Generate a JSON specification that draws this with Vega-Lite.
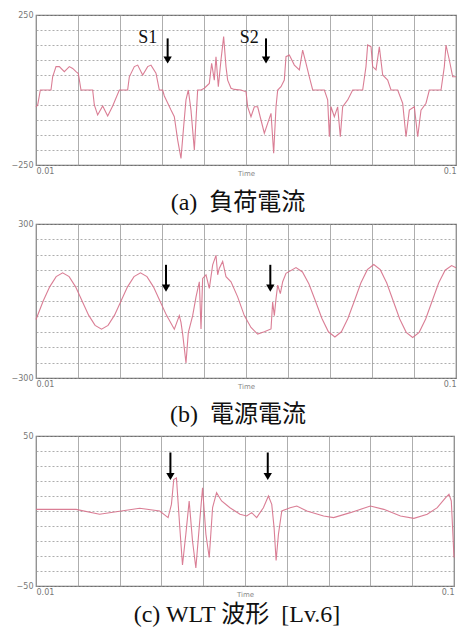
{
  "$schema": "https://vega.github.io/schema/vega-lite/v6.json",
  "background": "white",
  "padding": {"top": 10, "left": 5, "right": 5, "bottom": 3},
  "spacing": 3,
  "config": {
    "view": {"stroke": "#6f6f6f", "strokeWidth": 1.2},
    "axis": {"labelFont": "DejaVu Sans", "labelFontSize": 8, "labelColor": "#777", "ticks": false, "domain": false, "gridColor": "#999", "gridWidth": 0.8, "titleFont": "DejaVu Sans", "titleFontSize": 7, "titleColor": "#888", "titleFontWeight": "normal"},
    "axisX": {"gridDash": [], "labelFlush": true, "labelPadding": 2},
    "axisY": {"gridDash": [2, 2], "minExtent": 30, "maxExtent": 30, "labelPadding": 3},
    "title": {"font": "Liberation Serif, Noto Sans CJK JP", "fontSize": 24, "fontWeight": "normal", "color": "#111", "orient": "bottom", "dx": -8}
  },
  "datasets": {
    "load": [
      {"t":0.01000,"v":-56},{"t":0.01036,"v":-50},{"t":0.01093,"v":0},{"t":0.01321,"v":0},{"t":0.01357,"v":44},{"t":0.01429,"v":78},{"t":0.01500,"v":78},{"t":0.01607,"v":61},{"t":0.01714,"v":78},{"t":0.01786,"v":72},{"t":0.01857,"v":61},{"t":0.01907,"v":55},{"t":0.01964,"v":0},{"t":0.02214,"v":0},{"t":0.02250,"v":-50},{"t":0.02321,"v":-83},{"t":0.02429,"v":-53},{"t":0.02536,"v":-87},{"t":0.02643,"v":-53},{"t":0.02786,"v":0},{"t":0.02964,"v":0},{"t":0.03000,"v":44},{"t":0.03107,"v":78},{"t":0.03179,"v":83},{"t":0.03286,"v":50},{"t":0.03393,"v":78},{"t":0.03464,"v":83},{"t":0.03571,"v":56},{"t":0.03643,"v":0},{"t":0.03714,"v":0},{"t":0.03750,"v":-20},{"t":0.03893,"v":-67},{"t":0.03964,"v":-89},{"t":0.04036,"v":-167},{"t":0.04107,"v":-228},{"t":0.04164,"v":-122},{"t":0.04214,"v":-33},{"t":0.04264,"v":0},{"t":0.04321,"v":-67},{"t":0.04393,"v":-200},{"t":0.04464,"v":0},{"t":0.04536,"v":0},{"t":0.04607,"v":6},{"t":0.04714,"v":22},{"t":0.04764,"v":89},{"t":0.04821,"v":33},{"t":0.04857,"v":111},{"t":0.04907,"v":11},{"t":0.04964,"v":100},{"t":0.05021,"v":178},{"t":0.05071,"v":78},{"t":0.05107,"v":33},{"t":0.05179,"v":6},{"t":0.05250,"v":2},{"t":0.05393,"v":0},{"t":0.05500,"v":-6},{"t":0.05536,"v":-56},{"t":0.05607,"v":-89},{"t":0.05679,"v":-56},{"t":0.05750,"v":-56},{"t":0.05821,"v":-100},{"t":0.05893,"v":-144},{"t":0.05964,"v":-111},{"t":0.06036,"v":-78},{"t":0.06093,"v":-211},{"t":0.06143,"v":-56},{"t":0.06179,"v":0},{"t":0.06250,"v":11},{"t":0.06321,"v":33},{"t":0.06357,"v":111},{"t":0.06429,"v":117},{"t":0.06536,"v":83},{"t":0.06643,"v":67},{"t":0.06714,"v":133},{"t":0.06786,"v":89},{"t":0.06857,"v":44},{"t":0.06929,"v":0},{"t":0.07179,"v":0},{"t":0.07250,"v":-33},{"t":0.07286,"v":-156},{"t":0.07321,"v":-56},{"t":0.07393,"v":-89},{"t":0.07464,"v":-56},{"t":0.07521,"v":-156},{"t":0.07571,"v":-56},{"t":0.07679,"v":-33},{"t":0.07786,"v":0},{"t":0.08000,"v":0},{"t":0.08071,"v":78},{"t":0.08107,"v":150},{"t":0.08179,"v":144},{"t":0.08214,"v":78},{"t":0.08286,"v":67},{"t":0.08357,"v":144},{"t":0.08429,"v":50},{"t":0.08536,"v":33},{"t":0.08607,"v":0},{"t":0.08750,"v":0},{"t":0.08857,"v":-44},{"t":0.08929,"v":-156},{"t":0.09000,"v":-67},{"t":0.09107,"v":-56},{"t":0.09179,"v":-156},{"t":0.09250,"v":-67},{"t":0.09357,"v":-44},{"t":0.09429,"v":0},{"t":0.09679,"v":0},{"t":0.09750,"v":78},{"t":0.09786,"v":150},{"t":0.09857,"v":100},{"t":0.09929,"v":44},{"t":0.10000,"v":44}
    ],
    "source": [
      {"t":0.01000,"v":-72},{"t":0.01154,"v":0},{"t":0.01293,"v":55},{"t":0.01432,"v":95},{"t":0.01571,"v":110},{"t":0.01710,"v":95},{"t":0.01849,"v":55},{"t":0.01988,"v":0},{"t":0.02127,"v":-55},{"t":0.02266,"v":-95},{"t":0.02405,"v":-110},{"t":0.02544,"v":-95},{"t":0.02683,"v":-55},{"t":0.02822,"v":0},{"t":0.02961,"v":55},{"t":0.03100,"v":95},{"t":0.03239,"v":110},{"t":0.03378,"v":95},{"t":0.03517,"v":55},{"t":0.03656,"v":0},{"t":0.03795,"v":-55},{"t":0.03964,"v":-110},{"t":0.04071,"v":-57},{"t":0.04107,"v":-83},{"t":0.04143,"v":-129},{"t":0.04214,"v":-241},{"t":0.04264,"v":-123},{"t":0.04357,"v":-57},{"t":0.04429,"v":16},{"t":0.04500,"v":75},{"t":0.04536,"v":-109},{"t":0.04571,"v":88},{"t":0.04643,"v":102},{"t":0.04714,"v":49},{"t":0.04786,"v":141},{"t":0.04857,"v":178},{"t":0.04893,"v":102},{"t":0.04929,"v":128},{"t":0.05000,"v":154},{"t":0.05071,"v":95},{"t":0.05179,"v":75},{"t":0.05321,"v":16},{"t":0.05464,"v":-57},{"t":0.05607,"v":-103},{"t":0.05750,"v":-129},{"t":0.05893,"v":-120},{"t":0.06036,"v":-109},{"t":0.06071,"v":-4},{"t":0.06107,"v":-57},{"t":0.06143,"v":9},{"t":0.06179,"v":62},{"t":0.06236,"v":29},{"t":0.06286,"v":75},{"t":0.06357,"v":108},{"t":0.06571,"v":130},{"t":0.06710,"v":113},{"t":0.06849,"v":66},{"t":0.06988,"v":0},{"t":0.07127,"v":-68},{"t":0.07266,"v":-120},{"t":0.07405,"v":-140},{"t":0.07544,"v":-120},{"t":0.07683,"v":-68},{"t":0.07822,"v":0},{"t":0.07961,"v":70},{"t":0.08100,"v":122},{"t":0.08238,"v":142},{"t":0.08377,"v":122},{"t":0.08516,"v":70},{"t":0.08655,"v":0},{"t":0.08794,"v":-70},{"t":0.08933,"v":-122},{"t":0.09072,"v":-142},{"t":0.09211,"v":-122},{"t":0.09350,"v":-70},{"t":0.09489,"v":0},{"t":0.09628,"v":70},{"t":0.09767,"v":120},{"t":0.09906,"v":138},{"t":0.10000,"v":130}
    ],
    "wlt": [
      {"t":0.01000,"v":1.1},{"t":0.01864,"v":1.1},{"t":0.02368,"v":-2.2},{"t":0.03232,"v":1.8},{"t":0.03664,"v":0},{"t":0.03844,"v":-4.4},{"t":0.03916,"v":4.4},{"t":0.03966,"v":21},{"t":0.04024,"v":22},{"t":0.04096,"v":-11},{"t":0.04154,"v":-36},{"t":0.04226,"v":-15.5},{"t":0.04298,"v":6.7},{"t":0.04370,"v":-20},{"t":0.04442,"v":-38},{"t":0.04514,"v":-11},{"t":0.04586,"v":15.5},{"t":0.04658,"v":-15.5},{"t":0.04730,"v":-31},{"t":0.04802,"v":2.2},{"t":0.04888,"v":12.2},{"t":0.04996,"v":6.7},{"t":0.05176,"v":2.2},{"t":0.05392,"v":-2.2},{"t":0.05536,"v":-3.3},{"t":0.05644,"v":-1.1},{"t":0.05752,"v":-4.4},{"t":0.05896,"v":2.2},{"t":0.06004,"v":10},{"t":0.06076,"v":4.4},{"t":0.06126,"v":-11},{"t":0.06170,"v":-33},{"t":0.06220,"v":-15.5},{"t":0.06292,"v":0},{"t":0.06472,"v":2.2},{"t":0.06616,"v":3.3},{"t":0.06832,"v":0},{"t":0.07192,"v":-3.3},{"t":0.07408,"v":-4.4},{"t":0.07768,"v":-1.1},{"t":0.08200,"v":3.3},{"t":0.08488,"v":1.1},{"t":0.08848,"v":-3.3},{"t":0.09136,"v":-4.9},{"t":0.09424,"v":-2.2},{"t":0.09640,"v":2.2},{"t":0.09820,"v":8.9},{"t":0.09892,"v":11.1},{"t":0.09942,"v":6.7},{"t":0.10000,"v":-31}
    ],
    "arrows1": [{"t":0.03821,"v":172,"v2":100},{"t":0.05929,"v":172,"v2":100}],
    "labels1": [{"t":0.03393,"v":172,"label":"S1"},{"t":0.05571,"v":172,"label":"S2"}],
    "arrows2": [{"t":0.03786,"v":141,"v2":50},{"t":0.06021,"v":141,"v2":50}],
    "arrows3": [{"t":0.03894,"v":39,"v2":23},{"t":0.05990,"v":39,"v2":23}]
  },
  "vconcat": [
    {
      "width": 420, "height": 150,
      "title": {"text": "(a)\u00a0\u00a0負荷電流", "offset": 15},
      "encoding": {
        "x": {"field": "t", "type": "quantitative", "scale": {"domain": [0.01, 0.1], "nice": false, "zero": false},
              "axis": {"title": "Time", "values": [0.01,0.019,0.028,0.037,0.046,0.055,0.064,0.073,0.082,0.091,0.1], "format": "~g", "labelExpr": "datum.value < 0.011 || datum.value > 0.099 ? datum.label : ''", "titleY": 8, "titleBaseline": "middle"}},
        "y": {"field": "v", "type": "quantitative", "scale": {"domain": [-250, 250], "nice": false},
              "axis": {"title": null, "values": [-250,-200,-150,-100,-50,0,50,100,150,200,250], "labelExpr": "datum.value == 250 || datum.value == -250 ? datum.label : ''"}}
      },
      "layer": [
        {"data": {"name": "load"}, "mark": {"type": "line", "color": "#d6708a", "strokeWidth": 1.1, "opacity": 0.9}},
        {"data": {"name": "arrows1"}, "mark": {"type": "rule", "color": "black", "strokeWidth": 2}, "encoding": {"y2": {"field": "v2"}}},
        {"data": {"name": "arrows1"}, "mark": {"type": "point", "shape": "triangle-down", "filled": true, "color": "black", "size": 70, "opacity": 1}, "encoding": {"y": {"field": "v2", "type": "quantitative"}}},
        {"data": {"name": "labels1"}, "mark": {"type": "text", "font": "Liberation Serif", "fontSize": 18, "color": "#111", "baseline": "middle"}, "encoding": {"text": {"field": "label"}}}
      ]
    },
    {
      "width": 420, "height": 154,
      "title": {"text": "(b)\u00a0\u00a0電源電流", "offset": 14},
      "encoding": {
        "x": {"field": "t", "type": "quantitative", "scale": {"domain": [0.01, 0.1], "nice": false, "zero": false},
              "axis": {"title": "Time", "values": [0.01,0.019,0.028,0.037,0.046,0.055,0.064,0.073,0.082,0.091,0.1], "format": "~g", "labelExpr": "datum.value < 0.011 || datum.value > 0.099 ? datum.label : ''", "titleY": 8, "titleBaseline": "middle"}},
        "y": {"field": "v", "type": "quantitative", "scale": {"domain": [-300, 300], "nice": false},
              "axis": {"title": null, "values": [-300,-240,-180,-120,-60,0,60,120,180,240,300], "labelExpr": "datum.value == 300 || datum.value == -300 ? datum.label : ''"}}
      },
      "layer": [
        {"data": {"name": "source"}, "mark": {"type": "line", "color": "#d6708a", "strokeWidth": 1.1, "opacity": 0.9}},
        {"data": {"name": "arrows2"}, "mark": {"type": "rule", "color": "black", "strokeWidth": 2}, "encoding": {"y2": {"field": "v2"}}},
        {"data": {"name": "arrows2"}, "mark": {"type": "point", "shape": "triangle-down", "filled": true, "color": "black", "size": 70, "opacity": 1}, "encoding": {"y": {"field": "v2", "type": "quantitative"}}}
      ]
    },
    {
      "width": 418, "height": 150,
      "title": {"text": "(c) WLT 波形\u00a0\u00a0[Lv.6]", "offset": 6},
      "encoding": {
        "x": {"field": "t", "type": "quantitative", "scale": {"domain": [0.01, 0.1], "nice": false, "zero": false},
              "axis": {"title": "Time", "values": [0.01,0.019,0.028,0.037,0.046,0.055,0.064,0.073,0.082,0.091,0.1], "format": "~g", "labelExpr": "datum.value < 0.011 || datum.value > 0.099 ? datum.label : ''", "titleY": 8, "titleBaseline": "middle"}},
        "y": {"field": "v", "type": "quantitative", "scale": {"domain": [-50, 50], "nice": false},
              "axis": {"title": null, "values": [-50,-40,-30,-20,-10,0,10,20,30,40,50], "labelExpr": "datum.value == 50 || datum.value == -50 ? datum.label : ''"}}
      },
      "layer": [
        {"data": {"name": "wlt"}, "mark": {"type": "line", "color": "#d6708a", "strokeWidth": 1.1, "opacity": 0.9}},
        {"data": {"name": "arrows3"}, "mark": {"type": "rule", "color": "black", "strokeWidth": 2}, "encoding": {"y2": {"field": "v2"}}},
        {"data": {"name": "arrows3"}, "mark": {"type": "point", "shape": "triangle-down", "filled": true, "color": "black", "size": 70, "opacity": 1}, "encoding": {"y": {"field": "v2", "type": "quantitative"}}}
      ]
    }
  ]
}
